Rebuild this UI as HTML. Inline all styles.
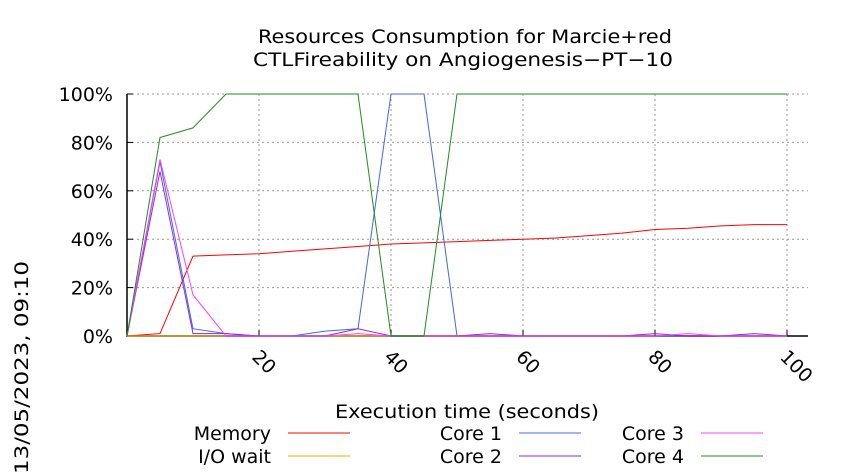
<!DOCTYPE html>
<html><head><meta charset="utf-8"><style>
body{margin:0;background:#fff;}
svg{display:block;font-family:"DejaVu Sans","Liberation Sans",sans-serif;}
</style></head><body>
<svg id="chart" width="850" height="475" viewBox="0 0 850 475">
<text x="258" y="43" font-size="19" textLength="414" lengthAdjust="spacingAndGlyphs">Resources Consumption for Marcie+red</text>
<text x="253" y="66" font-size="19" textLength="420" lengthAdjust="spacingAndGlyphs">CTLFireability on Angiogenesis−PT−10</text>
<g id="grid"></g>
<g id="axes"></g>
<g id="series"></g>
<text x="335" y="418" font-size="19" textLength="264" lengthAdjust="spacingAndGlyphs">Execution time (seconds)</text>
<text transform="translate(28,474) rotate(-90)" font-size="19" textLength="213" lengthAdjust="spacingAndGlyphs">13/05/2023, 09:10</text>
<g id="legend"></g>
</svg>
<script>
const times=[0,5,10,15,20,25,30,35,40,45,50,55,60,65,70,75,80,85,90,95,100];
const memory=[0,1,33,33.5,34,35,36,37,38,38.5,39,39.5,40,40.5,41.5,42.5,44,44.5,45.5,46,46];
const iowait=[0,0,0,0,0,0,0,0,0,0,0,0,0,0,0,0,0,0,0,0,0];
const core1=[0,72,3,1,0,0,2,3,100,100,0,0,0,0,0,0,0,0,0,0,0];
const core2=[0,68,1,1,0,0,0,3,0,0,0,1,0,0,0,0,1,0,0,1,0];
const core3=[0,73,17,0,0,0,0,1,0,0,0,0,0,0,0,0,0,1,0,0,0];
const core4=[0,82,86,100,100,100,100,100,0,0,100,100,100,100,100,100,100,100,100,100,100];
const xTicks=[20,40,60,80,100];
const yTicks=[0,20,40,60,80,100];
const L=127,R=808,T=94,B=336;
const xs=v=>L+v*6.6, ys=v=>B-(B-T)*v/100;
const NS="http://www.w3.org/2000/svg";
function mk(p,tag,a){const e=document.createElementNS(NS,tag);for(const k in a)e.setAttribute(k,a[k]);p.appendChild(e);return e;}
const grid=document.getElementById('grid'),axes=document.getElementById('axes');
yTicks.forEach(v=>{
 if(v>0){const g=mk(grid,'line',{x1:L,x2:R,y1:ys(v),y2:ys(v),stroke:'#999','stroke-dasharray':'2,3','stroke-width':1});
 
 }
 const t=mk(axes,'text',{x:L-14,y:ys(v)+7,'text-anchor':'end','font-size':19});t.textContent=v+'%';
 
 
 mk(axes,'line',{x1:L,x2:L+6,y1:ys(v),y2:ys(v),stroke:'#000'});
});
xTicks.forEach(v=>{
 const g=mk(grid,'line',{x1:xs(v),x2:xs(v),y1:T,y2:B,stroke:'#999','stroke-dasharray':'2,3','stroke-width':1});
 
 
 mk(axes,'line',{x1:xs(v),x2:xs(v),y1:B,y2:B-6,stroke:'#000'});
 const t=mk(axes,'text',{x:0,y:0,'font-size':19,transform:`translate(${xs(v)-8},${B+22}) rotate(45)`});t.textContent=v;
 
 
});
const ax=mk(axes,'path',{d:`M${L},${T}V${B}H${R}`,fill:'none',stroke:'#000','stroke-width':1.5});


const series=[['memory',memory,'#ff0000','Memory'],['io-wait',iowait,'#ffa500','I/O wait'],['core-1',core1,'#4169e1','Core 1'],['core-2',core2,'#8a2be2','Core 2'],['core-3',core3,'#ff40ff','Core 3'],['core-4',core4,'#228b22','Core 4']];
const sg=document.getElementById('series');
series.forEach(s=>{
 const p=mk(sg,'polyline',{points:times.map((t,i)=>xs(t)+','+ys(s[1][i])).join(' '),fill:'none',stroke:s[2],'stroke-width':1});
 
 
});
const lg=document.getElementById('legend');
const pos=[[271,433],[271,456],[502,433],[502,456],[684,433],[684,456]];
series.forEach((s,i)=>{
 const [x,y]=pos[i];
 const g=mk(lg,'g',{});
 
 
 const t=mk(g,'text',{x:x,y:y+7,'text-anchor':'end','font-size':19});t.textContent=s[3];
 mk(g,'line',{x1:x+17,x2:x+79,y1:y,y2:y,stroke:s[2],'stroke-width':1});
});
</script>
</body></html>
